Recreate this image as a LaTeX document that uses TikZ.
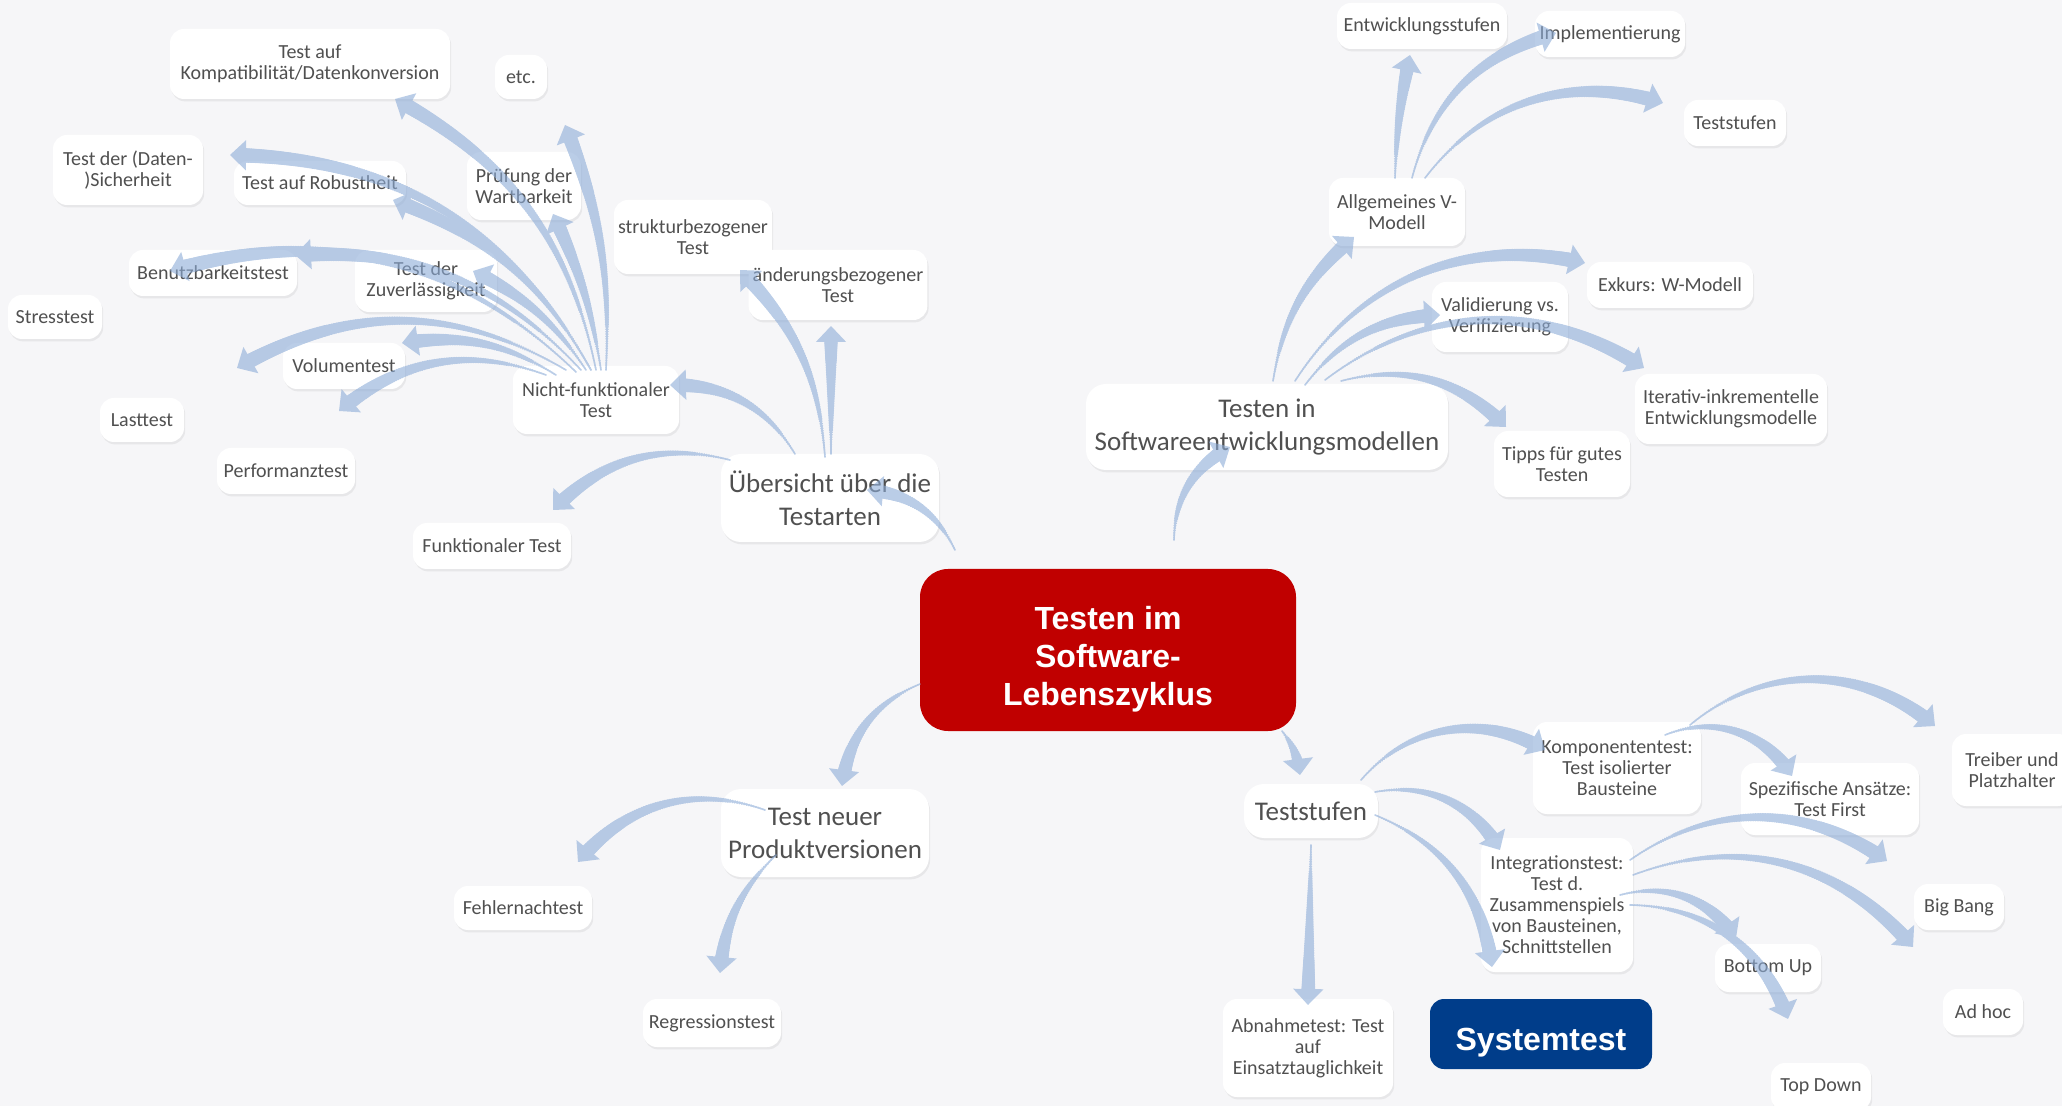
\documentclass[tikz,border=0pt]{standalone}
\usepackage{fontspec}
\setmainfont{Carlito}
\newfontfamily\headfont{Liberation Sans}
\usepackage{tikz}
\usetikzlibrary{arrows.meta,shadows,decorations.markings}
\definecolor{mapbg}{RGB}{246,246,248}
\definecolor{mapred}{RGB}{192,0,0}
\definecolor{mapblue}{RGB}{0,61,138}
\definecolor{maptext}{RGB}{80,80,80}
\definecolor{maparrow}{RGB}{140,172,216}

\begin{document}
\begin{tikzpicture}[
  x=0.5pt, y=-0.5pt,
  topic/.style={fill=white, rounded corners=7pt, align=center, text=maptext, inner sep=2pt,
                font=\fontsize{10}{10.5}\selectfont,
                drop shadow={opacity=0.12, shadow xshift=0.6pt, shadow yshift=-1.2pt}},
  branch/.style={topic, rounded corners=10pt, font=\fontsize{13.5}{16.5}\selectfont},
  root/.style={fill=mapred, rounded corners=14pt, text=white, align=center,
               font=\headfont\bfseries\fontsize{16}{19}\selectfont},
  focus/.style={fill=mapblue, rounded corners=7pt, text=white,
                font=\headfont\bfseries\fontsize{16}{19}\selectfont},
  link/.style={draw=maparrow, line width=0.8pt, -{Triangle[length=8pt,width=15pt]},
    postaction={decorate, decoration={markings,
      mark=between positions 0 and -6pt step 1.2pt with {
        \pgfmathsetmacro{\tapr}{0.4+3.4*\pgfkeysvalueof{/pgf/decoration/mark info/distance from start}/\pgfdecoratedpathlength}
        \fill[maparrow] (0,0) circle [radius=\tapr pt];}}}}
]
  \useasboundingbox (0,0) rectangle (2062,1106);
  \fill[mapbg] (0,0) rectangle (2062,1106);

  \node[root, minimum width=188pt, minimum height=81pt] (root) at (1108,650) {\rule{0pt}{21pt}Testen im\\Software-\\Lebenszyklus};
  \node[focus, minimum width=111pt, minimum height=35pt] (sys) at (1541,1034) {\rule{0pt}{20pt}Systemtest};

  \node[branch, minimum width=109pt, minimum height=44pt] (ueb) at (830,498) {Übersicht über die\\Testarten};
  \node[branch, minimum width=181pt, minimum height=43pt] (tsem) at (1267,427) {Testen in\\Softwareentwicklungsmodellen};
  \node[branch, minimum width=104pt, minimum height=44pt] (tneu) at (825,833) {Test neuer\\Produktversionen};
  \node[branch, minimum width=67pt, minimum height=27pt] (tst) at (1311,811) {Teststufen};

  \node[topic, minimum width=140pt, minimum height=35pt] (kompat) at (310,64) {Test auf\\Kompatibilität/Datenkonversion};
  \node[topic, minimum width=26pt, minimum height=22pt] (etc) at (521,77) {etc.};
  \node[topic, minimum width=75pt, minimum height=35pt] (sicher) at (128,170) {Test der (Daten-\\)Sicherheit};
  \node[topic, minimum width=86pt, minimum height=22pt] (robust) at (320,183) {Test auf Robustheit};
  \node[topic, minimum width=57pt, minimum height=34pt] (pruef) at (524,186) {Prüfung der\\Wartbarkeit};
  \node[topic, minimum width=79pt, minimum height=37pt] (struktur) at (693,237) {strukturbezogener\\Test};
  \node[topic, minimum width=89pt, minimum height=35pt] (aender) at (838,285) {änderungsbezogener\\Test};
  \node[topic, minimum width=84pt, minimum height=23pt] (benutz) at (213,273) {Benutzbarkeitstest};
  \node[topic, minimum width=71pt, minimum height=31pt] (zuver) at (426,281) {Test der\\Zuverlässigkeit};
  \node[topic, minimum width=47pt, minimum height=22pt] (stress) at (55,317) {Stresstest};
  \node[topic, minimum width=61pt, minimum height=23pt] (volumen) at (344,366) {Volumentest};
  \node[topic, minimum width=83pt, minimum height=34pt] (nfunk) at (596,400) {Nicht-funktionaler\\Test};
  \node[topic, minimum width=42pt, minimum height=22pt] (last) at (142,420) {Lasttest};
  \node[topic, minimum width=69pt, minimum height=23pt] (perf) at (286,471) {Performanztest};
  \node[topic, minimum width=79pt, minimum height=23pt] (funk) at (492,546) {Funktionaler Test};

  \node[topic, minimum width=85pt, minimum height=23pt] (entw) at (1422,26) {Entwicklungsstufen};
  \node[topic, minimum width=75pt, minimum height=23pt] (impl) at (1610,34) {Implementierung};
  \node[topic, minimum width=51pt, minimum height=23pt] (tstufe) at (1735,123) {Teststufen};
  \node[topic, minimum width=68pt, minimum height=34pt] (vmod) at (1397,212) {Allgemeines V-\\Modell};
  \node[topic, minimum width=83pt, minimum height=23pt] (wmod) at (1670,285) {Exkurs: W-Modell};
  \node[topic, minimum width=68pt, minimum height=35pt] (valid) at (1500,317) {Validierung vs.\\Verifizierung};
  \node[topic, minimum width=96pt, minimum height=35pt] (iter) at (1731,409) {Iterativ-inkrementelle\\Entwicklungsmodelle};
  \node[topic, minimum width=68pt, minimum height=33pt] (tipps) at (1562,464) {Tipps für gutes\\Testen};

  \node[topic, minimum width=84pt, minimum height=46pt] (komp) at (1617,768) {Komponententest:\\Test isolierter\\Bausteine};
  \node[topic, minimum width=89pt, minimum height=36pt] (spez) at (1830,799) {Spezifische Ansätze:\\Test First};
  \node[topic, minimum width=60pt, minimum height=36pt] (treiber) at (2012,770) {Treiber und\\Platzhalter};
  \node[topic, minimum width=76pt, minimum height=67pt] (integ) at (1557,905) {Integrationstest:\\Test d.\\Zusammenspiels\\von Bausteinen,\\Schnittstellen};
  \node[topic, minimum width=45pt, minimum height=23pt] (bigbang) at (1959,907) {Big Bang};
  \node[topic, minimum width=53pt, minimum height=24pt] (bottomup) at (1768,968) {Bottom Up};
  \node[topic, minimum width=40pt, minimum height=23pt] (adhoc) at (1983,1012) {Ad hoc};
  \node[topic, minimum width=50pt, minimum height=24pt] (topdown) at (1821,1087) {Top Down};
  \node[topic, minimum width=85pt, minimum height=49pt] (abnahme) at (1308,1048) {Abnahmetest: Test\\auf\\Einsatztauglichkeit};
  \node[topic, minimum width=69pt, minimum height=22pt] (fehler) at (523,908) {Fehlernachtest};
  \node[topic, minimum width=69pt, minimum height=24pt] (regr) at (712,1023) {Regressionstest};

  \begin{scope}[transparency group, opacity=0.6]
  \draw[link] ([shift={(-153,-100)}]root.center) to[bend right=30] ([shift={(37,-8)}]ueb.center);
  \draw[link] ([shift={(66,-110)}]root.center) to[bend left=30] ([shift={(-37,20)}]tsem.center);
  \draw[link] ([shift={(-188,34)}]root.center) to[bend right=30] ([shift={(17,-47)}]tneu.center);
  \draw[link] ([shift={(174,81)}]root.center) to[bend left=15] ([shift={(-11,-36)}]tst.center);

  \draw[link] ([shift={(1,-44)}]ueb.center) -- ([shift={(-7,41)}]aender.center);
  \draw[link] ([shift={(-5,-41)}]ueb.center) to[bend right=20] ([shift={(47,33)}]struktur.center);
  \draw[link] ([shift={(-35,-44)}]ueb.center) to[bend right=30] ([shift={(74,-15)}]nfunk.center);
  \draw[link] ([shift={(-100,-38)}]ueb.center) to[bend right=30] ([shift={(61,-36)}]funk.center);

  \draw[link] ([shift={(0,-30)}]nfunk.center) to[bend right=25] ([shift={(85,35)}]kompat.center);
  \draw[link] ([shift={(10,-30)}]nfunk.center) to[bend right=12] ([shift={(44,48)}]etc.center);
  \draw[link] ([shift={(5,-30)}]nfunk.center) to[bend right=8] ([shift={(29,28)}]pruef.center);
  \draw[link] ([shift={(-5,-30)}]nfunk.center) to[bend right=30] ([shift={(102,-15)}]sicher.center);
  \draw[link] ([shift={(-5,-30)}]nfunk.center) to[bend right=20] ([shift={(73,17)}]robust.center);
  \draw[link] ([shift={(-10,-30)}]nfunk.center) to[bend right=15] ([shift={(47,-10)}]zuver.center);
  \draw[link] ([shift={(-15,-30)}]nfunk.center) to[bend right=25] ([shift={(82,-18)}]benutz.center);
  \draw[link] ([shift={(-20,-28)}]nfunk.center) to[bend right=30] ([shift={(115,-46)}]stress.center);
  \draw[link] ([shift={(-40,-25)}]nfunk.center) to[bend right=20] ([shift={(58,-23)}]volumen.center);
  \draw[link] ([shift={(-30,-30)}]nfunk.center) to[bend right=30] ([shift={(95,-52)}]last.center);
  \draw[link] ([shift={(-50,-25)}]nfunk.center) to[bend right=30] ([shift={(53,-60)}]perf.center);

  \draw[link] ([shift={(6,-46)}]tsem.center) to[bend left=20] ([shift={(-43,25)}]vmod.center);
  \draw[link] ([shift={(28,-46)}]tsem.center) to[bend left=35] ([shift={(-85,-22)}]wmod.center);
  \draw[link] ([shift={(38,-42)}]tsem.center) to[bend left=25] ([shift={(-60,-2)}]valid.center);
  \draw[link] ([shift={(58,-47)}]tsem.center) to[bend left=35] ([shift={(-87,-41)}]iter.center);
  \draw[link] ([shift={(74,-46)}]tsem.center) to[bend left=30] ([shift={(-56,-37)}]tipps.center);

  \draw[link] ([shift={(-2,-34)}]vmod.center) to[bend left=5] ([shift={(-12,29)}]entw.center);
  \draw[link] ([shift={(15,-34)}]vmod.center) to[bend left=30] ([shift={(-54,-1)}]impl.center);
  \draw[link] ([shift={(28,-34)}]vmod.center) to[bend left=35] ([shift={(-72,-20)}]tstufe.center);

  \draw[link] ([shift={(-60,-23)}]tneu.center) to[bend right=35] ([shift={(55,-46)}]fehler.center);
  \draw[link] ([shift={(-49,22)}]tneu.center) to[bend right=20] ([shift={(8,-50)}]regr.center);

  \draw[link] ([shift={(0,34)}]tst.center) -- ([shift={(0,-43)}]abnahme.center);
  \draw[link] ([shift={(50,-31)}]tst.center) to[bend left=40] ([shift={(-72,-18)}]komp.center);
  \draw[link] ([shift={(64,-19)}]tst.center) to[bend left=35] ([shift={(-57,-55)}]integ.center);
  \draw[link] ([shift={(64,4)}]tst.center) to[bend left=30] ([shift={(-49,-67)}]sys.center);

  \draw[link] ([shift={(73,-43)}]komp.center) to[bend left=40] ([shift={(-77,-44)}]treiber.center);
  \draw[link] ([shift={(48,-33)}]komp.center) to[bend left=40] ([shift={(-38,-23)}]spez.center);

  \draw[link] ([shift={(73,-45)}]integ.center) to[bend left=35] ([shift={(-72,-46)}]bigbang.center);
  \draw[link] ([shift={(76,-30)}]integ.center) to[bend left=35] ([shift={(-70,-65)}]adhoc.center);
  \draw[link] ([shift={(63,-10)}]integ.center) to[bend left=35] ([shift={(-32,-30)}]bottomup.center);
  \draw[link] ([shift={(73,0)}]integ.center) to[bend left=35] ([shift={(-33,-68)}]topdown.center);
  \end{scope}
\end{tikzpicture}
\end{document}
